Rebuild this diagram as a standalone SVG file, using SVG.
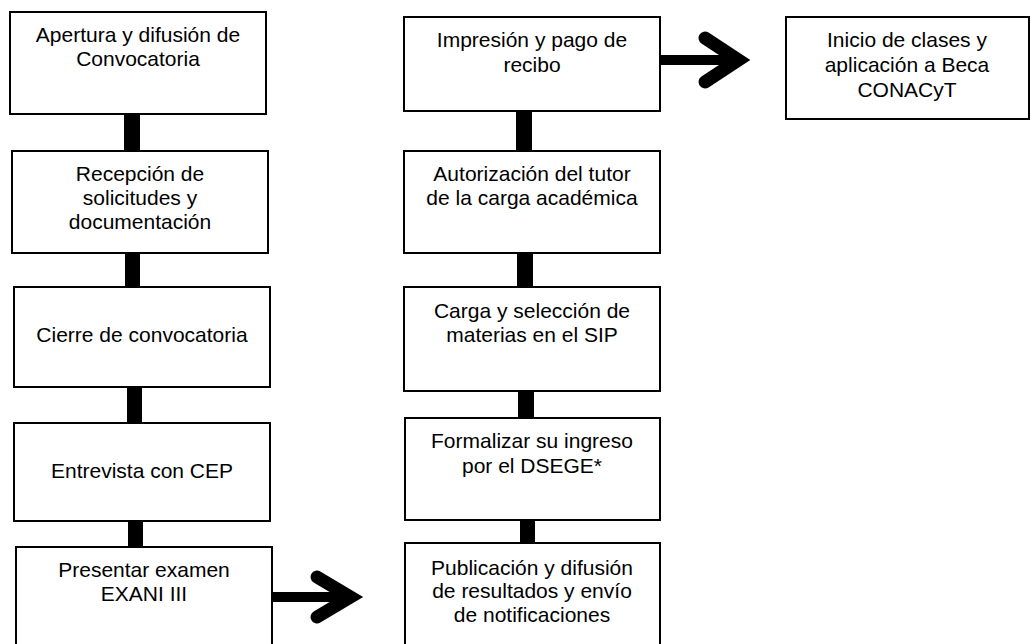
<svg xmlns="http://www.w3.org/2000/svg" width="1031" height="644" viewBox="0 0 1031 644">
<style>
.box{fill:#fff;stroke:#000;stroke-width:2}
.t{font-family:"Liberation Sans",Arial,sans-serif;font-size:21px;fill:#000;text-anchor:middle}
.bar{fill:#000}
.head{fill:none;stroke:#000;stroke-width:13;stroke-linecap:round;stroke-linejoin:miter;stroke-miterlimit:10}
</style>
<rect width="1031" height="644" fill="#fff"/>
<g id="connectors">
<rect class="bar" x="124" y="113" width="16" height="39"/>
<rect class="bar" x="125" y="252" width="15" height="36"/>
<rect class="bar" x="127" y="386" width="15" height="38"/>
<rect class="bar" x="128" y="520" width="15" height="28"/>
<rect class="bar" x="516" y="110" width="16" height="42"/>
<rect class="bar" x="517" y="252" width="16" height="36"/>
<rect class="bar" x="518" y="391" width="16" height="28"/>
<rect class="bar" x="520" y="519" width="15" height="25"/>
<rect class="bar" x="272" y="592" width="74" height="10"/>
<polyline class="head" points="317,577 350.5,597 317,617"/>
<rect class="bar" x="660" y="55" width="74" height="10"/>
<polyline class="head" points="705,38 738.5,60 705,82"/>
</g>
<g id="n1"><rect class="box" x="10" y="12" width="256" height="102"/>
<text class="t" x="138" y="42">Apertura y difusión de</text><text class="t" x="138" y="66">Convocatoria</text></g>
<g id="n2"><rect class="box" x="12" y="151" width="256" height="102"/>
<text class="t" x="140" y="181">Recepción de</text><text class="t" x="140" y="205">solicitudes y</text><text class="t" x="140" y="229">documentación</text></g>
<g id="n3"><rect class="box" x="14" y="287" width="256" height="100"/>
<text class="t" x="142" y="342">Cierre de convocatoria</text></g>
<g id="n4"><rect class="box" x="14" y="423" width="256" height="98"/>
<text class="t" x="142" y="478">Entrevista con CEP</text></g>
<g id="n5"><rect class="box" x="16" y="547" width="256" height="110"/>
<text class="t" x="144" y="577">Presentar examen</text><text class="t" x="144" y="601">EXANI III</text></g>
<g id="m1"><rect class="box" x="404" y="17" width="256" height="94"/>
<text class="t" x="532" y="47">Impresión y pago de</text><text class="t" x="532" y="72">recibo</text></g>
<g id="m2"><rect class="box" x="404" y="151" width="256" height="102"/>
<text class="t" x="532" y="181">Autorización del tutor</text><text class="t" x="532" y="205">de la carga académica</text></g>
<g id="m3"><rect class="box" x="404" y="287" width="256" height="104"/>
<text class="t" x="532" y="318">Carga y selección de</text><text class="t" x="532" y="342">materias en el SIP</text></g>
<g id="m4"><rect class="box" x="405" y="418" width="255" height="102"/>
<text class="t" x="532" y="448">Formalizar su ingreso</text><text class="t" x="532" y="473">por el DSEGE*</text></g>
<g id="m5"><rect class="box" x="405" y="543" width="255" height="110"/>
<text class="t" x="532" y="575">Publicación y difusión</text><text class="t" x="532" y="598">de resultados y envío</text><text class="t" x="532" y="622">de notificaciones</text></g>
<g id="r1"><rect class="box" x="786" y="17" width="243" height="102"/>
<text class="t" x="907" y="47">Inicio de clases y</text><text class="t" x="907" y="72">aplicación a Beca</text><text class="t" x="907" y="97">CONACyT</text></g>
</svg>
